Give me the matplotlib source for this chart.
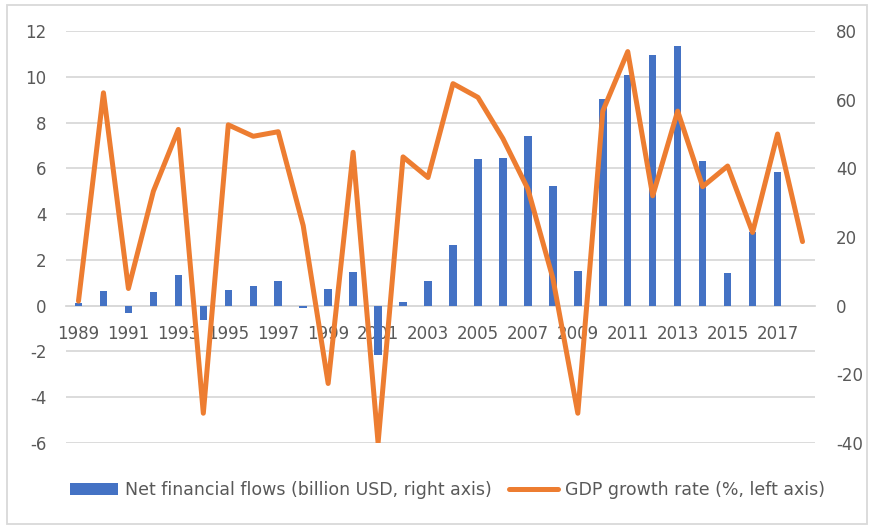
import numpy as np
import matplotlib
matplotlib.use("Agg")
import matplotlib.pyplot as plt
from matplotlib.patches import Rectangle, Patch
from matplotlib.lines import Line2D

plt.rcParams["axes.unicode_minus"] = False

# Données
years = list(range(1989, 2019))
flows = [0.7, 4.2, -2.1, 3.9, 9.0, -4.3, 4.7, 5.6, 7.3, -0.8,
         4.9, 9.7, -14.5, 1.2, 7.3, 17.7, 42.8, 43.0, 49.3, 34.8,
         10.0, 60.1, 67.2, 73.0, 75.7, 42.0, 9.5, 21.5, 38.9, np.nan]
gdp = [0.2, 9.3, 0.75, 5.0, 7.7, -4.7, 7.9, 7.4, 7.6, 3.5,
       -3.4, 6.7, -6.0, 6.5, 5.6, 9.7, 9.1, 7.3, 5.1, 1.2,
       -4.7, 8.5, 11.1, 4.8, 8.5, 5.2, 6.1, 3.2, 7.5, 2.8]
left_ticks = [-6, -4, -2, 0, 2, 4, 6, 8, 10, 12]
right_ticks = [-40, -20, 0, 20, 40, 60, 80]
year_labels = [str(y) if (y - 1989) % 2 == 0 else "" for y in years]

blue = "#4472C4"
orange = "#ED7D31"
grey_txt = "#595959"
grid_c = "#D9D9D9"

fig = plt.figure(figsize=(8.72, 5.27), dpi=100)
ax = fig.add_axes([66/872, 1-443/527, (815-66)/872, (443-31)/527])
ax2 = ax.twinx()

x = np.arange(len(years))

# barres sur l'axe de droite
ax2.bar(x, flows, width=0.3, color=blue, zorder=2)
# ligne sur l'axe de gauche, dessinée au-dessus des barres
ax2.plot(x, gdp, color=orange, lw=3.6, solid_joinstyle="round",
         solid_capstyle="round", transform=ax.transData, zorder=3)

ax.set_xlim(-0.5, len(years) - 0.5)
ax.set_ylim(-6, 12)
ax2.set_ylim(-40, 80)
ax.set_yticks(left_ticks)
ax2.set_yticks(right_ticks)

ax.grid(axis="y", color=grid_c, lw=1.3)
ax.set_axisbelow(True)

for a in (ax, ax2):
    for s in ("top", "left", "right"):
        a.spines[s].set_visible(False)
ax2.spines["bottom"].set_visible(False)
ax.spines["bottom"].set_position(("data", 0))
ax.spines["bottom"].set_color(grid_c)
ax.spines["bottom"].set_linewidth(1.3)

ax.set_xticks(x)
ax.set_xticklabels(year_labels)
ax.tick_params(axis="x", length=0, pad=14, labelsize=12, labelcolor=grey_txt)
ax.tick_params(axis="y", length=0, pad=14, labelsize=12, labelcolor=grey_txt)
ax2.tick_params(axis="y", length=0, pad=15, labelsize=12, labelcolor=grey_txt)

handles = [Patch(facecolor=blue),
           Line2D([0], [0], color=orange, lw=3.6, solid_capstyle="round")]
labels = ["Net financial flows (billion USD, right axis)",
          "GDP growth rate (%, left axis)"]
leg = fig.legend(handles, labels, loc="center", bbox_to_anchor=(0.513, 0.07),
                 ncol=2, frameon=False, fontsize=12.5, handlelength=2.8,
                 handleheight=0.6, handletextpad=0.4, columnspacing=1.0)
for t in leg.get_texts():
    t.set_color(grey_txt)

# cadre extérieur
fig.patches.append(Rectangle((7/872, 1-524/527), 860/872, 519/527,
                             transform=fig.transFigure, fill=False,
                             edgecolor=grid_c, lw=1.3))

fig.savefig("out.png", dpi=100)
